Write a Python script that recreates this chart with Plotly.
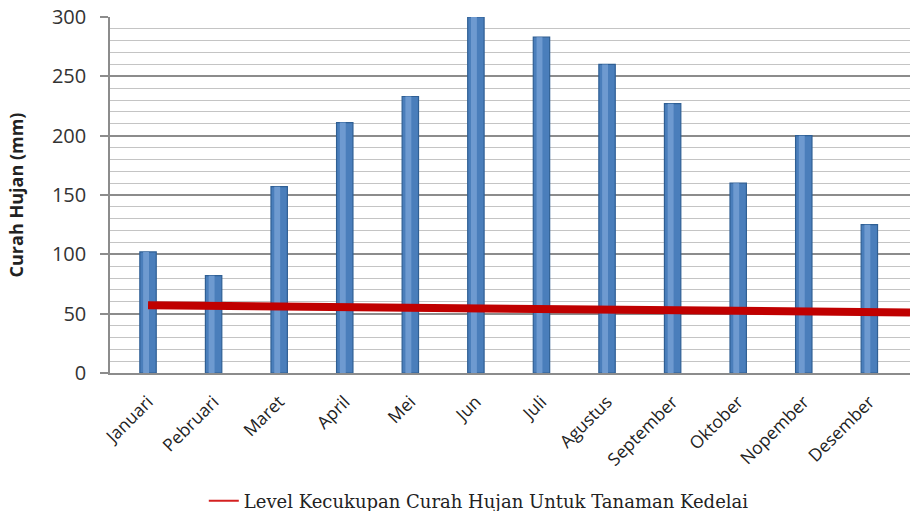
import plotly.graph_objects as go

months = ["Januari", "Pebruari", "Maret", "April", "Mei", "Jun", "Juli",
          "Agustus", "September", "Oktober", "Nopember", "Desember"]
rainfall = [102, 82, 157, 211, 233, 300, 283, 260, 227, 160, 200, 125]

level_x = [0, 11.62]
level_y = [57, 51]
level_name = "Level Kecukupan Curah Hujan Untuk Tanaman Kedelai"

y_ticks = [0, 50, 100, 150, 200, 250, 300]

idx = list(range(len(months)))

fig = go.Figure()
fig.add_trace(go.Bar(
    x=idx, y=rainfall, width=0.25,
    marker=dict(color="#4A7EBB", line=dict(color="#2F5F94", width=1.2)),
    showlegend=False,
))
fig.add_trace(go.Bar(
    x=idx, y=rainfall, width=0.09, offset=-0.075,
    marker=dict(color="#6E9AD0", line=dict(width=0)),
    showlegend=False,
))
fig.add_trace(go.Scatter(
    x=level_x, y=level_y, mode="lines",
    line=dict(color="#C00000", width=8),
    name=level_name, showlegend=False,
))
# legend entry with thin line
fig.add_trace(go.Scatter(
    x=[None], y=[None], mode="lines",
    line=dict(color="#D42020", width=2),
    name=level_name,
))

fig.update_layout(
    width=913, height=511,
    margin=dict(l=110, r=3, t=17, b=138, autoexpand=False),
    paper_bgcolor="white", plot_bgcolor="white",
    barmode="overlay",
    showlegend=True,
    legend=dict(orientation="h", x=0.461, xanchor="center", y=-0.36, yanchor="middle",
                font=dict(family="DejaVu Serif", size=18, color="#222222"),
                itemwidth=30),
    xaxis=dict(
        range=[-0.58, 11.62],
        tickmode="array", tickvals=idx, ticktext=months,
        tickangle=-45,
        tickfont=dict(family="Open Sans", size=17.5, color="#222222"),
        showgrid=False, zeroline=False,
        showline=True, linecolor="#8C8C8C", linewidth=1.5,
        ticks="outside", ticklen=10, tickcolor="rgba(0,0,0,0)",
        automargin=False,
    ),
    yaxis=dict(
        range=[0, 300],
        tickmode="array", tickvals=y_ticks,
        tickfont=dict(family="Open Sans", size=20, color="#333333"),
        title=dict(text="<b>Curah Hujan (mm)</b>",
                   font=dict(family="Open Sans", size=18, color="#222222"),
                   standoff=24),
        showgrid=True, gridcolor="#8C8C8C", gridwidth=1.5,
        minor=dict(dtick=10, showgrid=True, gridcolor="#C4C4C4", gridwidth=1),
        zeroline=False,
        showline=True, linecolor="#8C8C8C", linewidth=1.5,
        ticks="outside", ticklen=8, tickcolor="#8C8C8C", tickwidth=1.5,
        ticklabelstandoff=10,
        automargin=False,
    ),
)

fig.write_html("out.html")
